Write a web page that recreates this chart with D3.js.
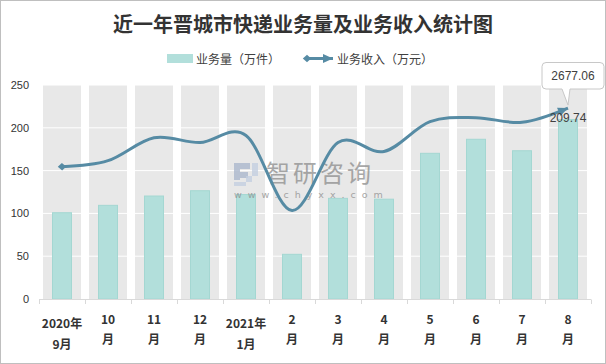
<!DOCTYPE html>
<html><head><meta charset="utf-8">
<script src="https://cdn.jsdelivr.net/npm/d3@7"></script>
<style>body{margin:0;background:#fff}svg{display:block;font-family:"Noto Sans CJK SC","Noto Sans",sans-serif}</style>
</head><body><svg id="c" width="606" height="364"></svg>
<script>
const title = "近一年晋城市快递业务量及业务收入统计图";
const categories = ["2020年9月","10月","11月","12月","2021年1月","2月","3月","4月","5月","6月","7月","8月"];
const labelTop = ["2020年","10","11","12","2021年","2","3","4","5","6","7","8"];
const labelBottom = ["9月","月","月","月","1月","月","月","月","月","月","月","月"];
const volume = [100.8,109.4,120.3,126.5,122,52.2,117.6,116.6,170.2,186.6,173.2,209.74];
const revenue = [1855,1939,2260,2193,2292,1241,2194,2068,2486,2542,2477,2677.06];
const yTicks = [0,50,100,150,200,250];
const legendNames = ["业务量（万件）","业务收入（万元）"];
const barLabel = "209.74";
const lineLabel = "2677.06";

const svg = d3.select("#c");
svg.append("rect").attr("x",0.5).attr("y",0.5).attr("width",605).attr("height",363)
  .attr("fill","#fff").attr("stroke","#bfbfbf");

const x = d3.scaleBand().domain(categories).range([39,591]);
const y = d3.scaleLinear().domain([0,250]).range([299,85]);
const y2 = d3.scaleLinear().domain([0,3000]).range([299,85]);
const bw = x.bandwidth();
const cx = c => x(c) + bw/2;

const defs = svg.append("defs");
const lineColor = "#568ba4";
defs.append("marker").attr("id","dia").attr("markerUnits","userSpaceOnUse")
  .attr("viewBox","-5 -5 10 10").attr("markerWidth",10).attr("markerHeight",10)
  .attr("refX",0).attr("refY",0).attr("orient","auto")
  .append("path").attr("d","M-4.2,0L0,-3.8L4.2,0L0,3.8Z").attr("fill",lineColor);
defs.append("marker").attr("id","arr").attr("markerUnits","userSpaceOnUse")
  .attr("viewBox","-12 -6 14 12").attr("markerWidth",14).attr("markerHeight",12)
  .attr("refX",0).attr("refY",0).attr("orient","auto")
  .append("path").attr("d","M0,0L-10,-4.5L-10,4.5Z").attr("fill",lineColor);

// title
svg.append("text").attr("x",303).attr("y",23).attr("text-anchor","middle")
  .attr("dominant-baseline","central").attr("font-size",20).attr("font-weight","bold")
  .attr("fill","#333").text(title);

// legend
svg.append("rect").attr("x",167).attr("y",54).attr("width",26).attr("height",9).attr("fill","#b2dfdb");
svg.append("text").attr("x",196).attr("y",58.5).attr("dominant-baseline","central")
  .attr("font-size",12).attr("fill","#404040").text(legendNames[0]);
svg.append("line").attr("x1",307).attr("x2",333).attr("y1",58.5).attr("y2",58.5)
  .attr("stroke",lineColor).attr("stroke-width",3)
  .attr("marker-start","url(#dia)").attr("marker-end","url(#arr)");
svg.append("text").attr("x",337).attr("y",58.5).attr("dominant-baseline","central")
  .attr("font-size",12).attr("fill","#404040").text(legendNames[1]);

// background bands
svg.append("g").selectAll("rect").data(categories).join("rect")
  .attr("x",d=>x(d)+4).attr("width",bw-8).attr("y",y(250)).attr("height",y(0)-y(250))
  .attr("fill","#e8e8e8");
// gridlines
svg.append("g").selectAll("line").data(yTicks.slice(1)).join("line")
  .attr("x1",39).attr("x2",591).attr("y1",d=>y(d)).attr("y2",d=>y(d))
  .attr("stroke","#fff").attr("stroke-width",1);

// y axis
const ya = svg.append("g").attr("transform","translate(39,0)")
  .call(d3.axisLeft(y).tickValues(yTicks).tickSize(0).tickPadding(10));
ya.select(".domain").remove();
ya.selectAll("text").attr("font-size",11).attr("fill","#333")
  .attr("font-family","'Liberation Sans',sans-serif");

// bars
svg.append("g").selectAll("rect").data(volume).join("rect")
  .attr("x",(d,i)=>cx(categories[i])-9.5).attr("width",19)
  .attr("y",d=>y(d)).attr("height",d=>y(0)-y(d))
  .attr("fill","#b2dfdb").attr("stroke","#a4d7d2").attr("stroke-width",1);

// x axis
svg.append("line").attr("x1",39).attr("x2",591).attr("y1",299.5).attr("y2",299.5)
  .attr("stroke","#d9d9d9");
svg.append("g").selectAll("line").data(d3.range(categories.length+1)).join("line")
  .attr("x1",i=>39.5+i*x.step()).attr("x2",i=>39.5+i*x.step())
  .attr("y1",299.5).attr("y2",304).attr("stroke","#d9d9d9");
const xl = svg.append("g").attr("font-size",12).attr("font-weight","bold").attr("fill","#333")
  .attr("text-anchor","middle");
categories.forEach((c,i)=>{
  const yr = labelTop[i].length>3;
  xl.append("text").attr("x",cx(c)).attr("y",yr?322:318).attr("dominant-baseline","central").text(labelTop[i]);
  xl.append("text").attr("x",cx(c)).attr("y",yr?343:338).attr("dominant-baseline","central").text(labelBottom[i]);
});

// watermark
const wm = svg.append("g");
wm.append("path").attr("d","M234,163H250V169H240V172H248V178H240V180H234Z").attr("fill","#aab6cc").attr("opacity",0.8);
wm.append("path").attr("d","M252,163H258V176H246V186H234V182H252Z").attr("fill","#c3cee0").attr("opacity",0.8);
wm.append("text").attr("x",266).attr("y",182).attr("font-size",24)
  .attr("fill","#8c8c8c").attr("opacity",0.75).attr("letter-spacing",3).text("智研咨询");
wm.append("text").attr("x",234).attr("y",198)
  .attr("font-size",9.5).attr("fill","#8c8c8c").attr("opacity",0.75).attr("letter-spacing",6)
  .attr("font-family","'DejaVu Sans',sans-serif").text("www.chyxx.com");

// line
const line = d3.line().x((d,i)=>cx(categories[i])).y(d=>y2(d)).curve(d3.curveCatmullRom.alpha(0));
svg.append("path").attr("d",line(revenue)).attr("fill","none").attr("stroke",lineColor)
  .attr("stroke-width",3).attr("marker-start","url(#dia)").attr("marker-end","url(#arr)");

// labels
const last = revenue.length-1;
const px = cx(categories[last]), py = y2(revenue[last]);
svg.append("text").attr("x",px).attr("y",y(volume[last])-1).attr("text-anchor","middle")
  .attr("dominant-baseline","central").attr("font-size",12).attr("fill","#404040")
  .attr("font-family","'Liberation Sans',sans-serif").text(barLabel);
svg.append("path")
  .attr("d",`M546,62.5H600Q604,62.5 604,66.5V85Q604,89 600,89H570L${px},${py-3}L562,89H546Q542,89 542,85V66.5Q542,62.5 546,62.5Z`)
  .attr("fill","#fff").attr("stroke","#c8c8c8");
svg.append("text").attr("x",573).attr("y",76).attr("text-anchor","middle")
  .attr("dominant-baseline","central").attr("font-size",12).attr("fill","#404040")
  .attr("font-family","'Liberation Sans',sans-serif").text(lineLabel);
</script></body></html>
